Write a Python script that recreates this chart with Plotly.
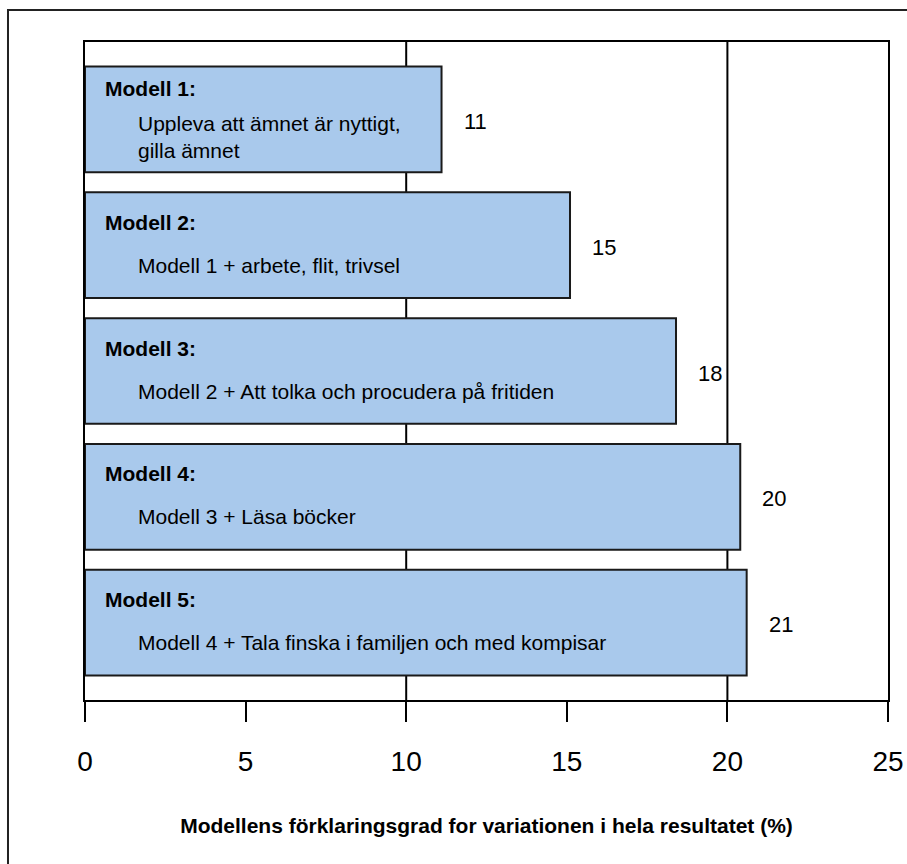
import plotly.graph_objects as go

models = ["Modell 1:", "Modell 2:", "Modell 3:", "Modell 4:", "Modell 5:"]
descriptions = [
    "Uppleva att ämnet är nyttigt,<br>gilla ämnet",
    "Modell 1 + arbete, flit, trivsel",
    "Modell 2 + Att tolka och procudera på fritiden",
    "Modell 3 + Läsa böcker",
    "Modell 4 + Tala finska i familjen och med kompisar",
]
values = [11.1, 15.1, 18.4, 20.4, 20.6]
value_labels = ["11", "15", "18", "20", "21"]
x_ticks = [0, 5, 10, 15, 20, 25]
grid_lines = [10, 20]
x_title = "Modellens förklaringsgrad for variationen i hela resultatet (%)"

FONT = "Liberation Sans Narrow, Arial Narrow, Liberation Sans, Arial, sans-serif"
idx = list(range(len(models)))

fig = go.Figure()
fig.add_trace(go.Bar(
    x=values, y=idx, orientation="h", width=0.84,
    marker=dict(color="#A9C9EC", line=dict(color="#1a1a1a", width=2)),
    hoverinfo="skip",
))

annotations = []
for i in idx:
    multi = "<br>" in descriptions[i]
    annotations.append(dict(
        x=0, y=i, xref="x", yref="y", text="<b>%s</b>" % models[i],
        xanchor="left", yanchor="middle", xshift=18,
        yshift=(31 if multi else 23), showarrow=False,
        font=dict(family=FONT, size=21, color="#000"), align="left"))
    annotations.append(dict(
        x=0, y=i, xref="x", yref="y", text=descriptions[i],
        xanchor="left", yanchor="middle", xshift=51,
        yshift=(-18 if multi else -20), showarrow=False,
        font=dict(family=FONT, size=21, color="#000"), align="left"))
    annotations.append(dict(
        x=values[i], y=i, xref="x", yref="y", text=value_labels[i],
        xanchor="left", yanchor="middle", xshift=20, yshift=-2,
        showarrow=False, font=dict(family=FONT, size=22, color="#000")))

shapes = [dict(type="line", xref="x", yref="paper", x0=g, x1=g, y0=0, y1=1,
               line=dict(color="#000", width=2), layer="below") for g in grid_lines]
shapes.append(dict(type="rect", xref="paper", yref="paper",
                   x0=-0.0959, x1=1.08, y0=-0.3, y1=1.0486,
                   line=dict(color="#222", width=2), layer="above"))

fig.update_layout(
    width=907, height=864,
    margin=dict(l=85, r=19, t=42, b=164, autoexpand=False),
    paper_bgcolor="white", plot_bgcolor="white",
    showlegend=False,
    annotations=annotations, shapes=shapes,
    xaxis=dict(
        range=[0, 25], tickvals=x_ticks, ticktext=[str(t) for t in x_ticks],
        ticks="outside", ticklen=20, tickwidth=2, tickcolor="#000",
        ticklabelstandoff=15, automargin=False,
        showline=True, linecolor="#000", linewidth=2, mirror=True,
        showgrid=False, zeroline=False,
        tickfont=dict(family=FONT, size=28, color="#000"),
        title=dict(text="<b>%s</b>" % x_title, standoff=43,
                   font=dict(family=FONT, size=21, color="#000")),
    ),
    yaxis=dict(
        range=[4.614, -0.614], showticklabels=False, ticks="",
        automargin=False,
        showline=True, linecolor="#000", linewidth=2, mirror=True,
        showgrid=False, zeroline=False,
    ),
)

fig.write_html(
    "out.html",
    config={"displayModeBar": False},
    post_script=(
        "document.body.style.margin='0';"
        "document.body.style.overflow='hidden';"
        "document.documentElement.style.overflow='hidden';"
    ),
)
